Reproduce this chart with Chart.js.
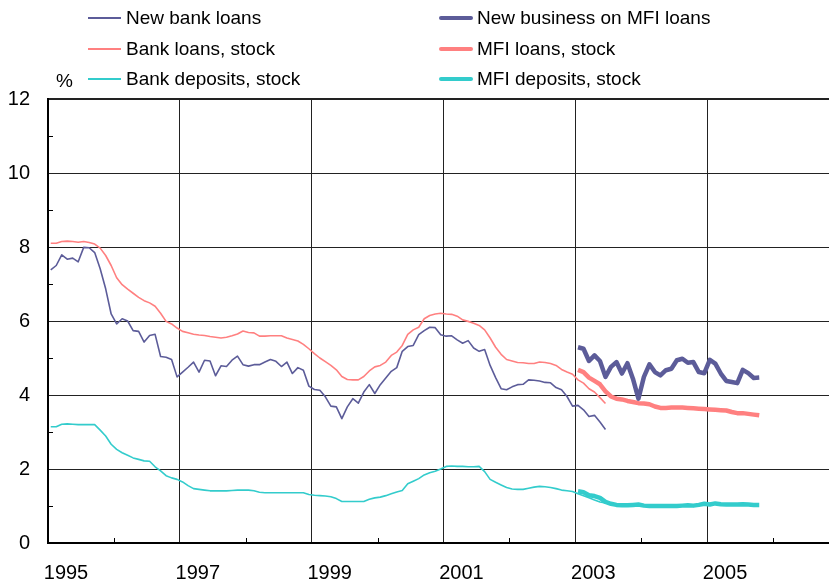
<!DOCTYPE html>
<html>
<head>
<meta charset="utf-8">
<script src="https://cdn.jsdelivr.net/npm/chart.js@4.4.1/dist/chart.umd.min.js"></script>
<style>
  html, body { margin: 0; padding: 0; background: #fff; }
  #wrap { position: relative; width: 829px; height: 582px; overflow: hidden; font-family: "Liberation Sans", Arial, sans-serif; }
  #c { position: absolute; left: 0; top: 0; }
  .lg-line { position: absolute; }
  .lg-text { position: absolute; font-size: 19px; line-height: 22px; height: 22px; color: #000; white-space: nowrap; }
  #unit { position: absolute; left: 56px; top: 70px; font-size: 19px; line-height: 22px; color: #000; }
</style>
</head>
<body>
<div id="wrap">
  <canvas id="c" width="829" height="582"></canvas>
  <div id="unit">%</div>
  <div id="legend"></div>
</div>
<script>
// ---- Data (monthly observations) ----
const seriesNames = [
  "New bank loans", "Bank loans, stock", "Bank deposits, stock",
  "New business on MFI loans", "MFI loans, stock", "MFI deposits, stock"
];
const seriesColors = ["#5c5c99", "#ff8080", "#33cccc", "#5c5c99", "#ff8080", "#33cccc"];

// Old-definition bank series: Jan 1995 – Jun 2003
const bankStartYear = 1995, bankStartMonth = 1;
const newBankLoans = [
  7.38, 7.50, 7.79, 7.67, 7.70, 7.60, 7.99, 7.98, 7.85, 7.41,
  6.87, 6.19, 5.92, 6.06, 6.00, 5.74, 5.72, 5.43, 5.61, 5.64,
  5.04, 5.02, 4.96, 4.49, 4.62, 4.75, 4.89, 4.62, 4.94, 4.92,
  4.52, 4.79, 4.77, 4.94, 5.05, 4.82, 4.78, 4.82, 4.82, 4.89,
  4.96, 4.91, 4.77, 4.89, 4.58, 4.74, 4.67, 4.24, 4.15, 4.13,
  3.95, 3.70, 3.68, 3.36, 3.68, 3.90, 3.78, 4.08, 4.28, 4.04,
  4.28, 4.46, 4.64, 4.74, 5.18, 5.31, 5.34, 5.63, 5.74, 5.83,
  5.82, 5.63, 5.59, 5.60, 5.49, 5.40, 5.47, 5.27, 5.18, 5.23,
  4.80, 4.47, 4.17, 4.14, 4.22, 4.28, 4.29, 4.41, 4.40, 4.38,
  4.34, 4.33, 4.20, 4.14, 3.96, 3.70, 3.72, 3.60, 3.42, 3.45,
  3.27, 3.07
];
const bankLoansStock = [
  8.10, 8.10, 8.15, 8.16, 8.15, 8.13, 8.15, 8.12, 8.08, 7.97,
  7.77, 7.50, 7.17, 6.98, 6.86, 6.75, 6.64, 6.55, 6.49, 6.40,
  6.21, 5.99, 5.92, 5.81, 5.72, 5.68, 5.64, 5.62, 5.61, 5.58,
  5.56, 5.54, 5.56, 5.60, 5.65, 5.73, 5.69, 5.68, 5.59, 5.59,
  5.60, 5.60, 5.60, 5.54, 5.50, 5.46, 5.37, 5.25, 5.12, 5.00,
  4.90, 4.80, 4.68, 4.50, 4.42, 4.41, 4.41, 4.50, 4.65, 4.76,
  4.80, 4.89, 5.07, 5.16, 5.34, 5.64, 5.76, 5.83, 6.06, 6.15,
  6.19, 6.21, 6.19, 6.18, 6.13, 6.03, 5.99, 5.94, 5.88, 5.76,
  5.54, 5.29, 5.10, 4.96, 4.92, 4.88, 4.87, 4.85, 4.85, 4.89,
  4.88, 4.85, 4.80, 4.69, 4.62, 4.56, 4.41, 4.32, 4.17, 4.08,
  3.93, 3.77
];
const bankDepositsStock = [
  3.14, 3.14, 3.21, 3.22, 3.21, 3.20, 3.20, 3.20, 3.20, 3.05,
  2.89, 2.67, 2.53, 2.44, 2.37, 2.30, 2.26, 2.22, 2.21, 2.06,
  1.95, 1.82, 1.76, 1.72, 1.65, 1.55, 1.47, 1.45, 1.43, 1.41,
  1.41, 1.41, 1.41, 1.42, 1.43, 1.43, 1.43, 1.41, 1.37, 1.36,
  1.36, 1.36, 1.36, 1.36, 1.36, 1.36, 1.36, 1.31, 1.29, 1.28,
  1.27, 1.25, 1.20, 1.12, 1.12, 1.12, 1.12, 1.12, 1.18, 1.22,
  1.24, 1.28, 1.33, 1.38, 1.42, 1.60, 1.67, 1.74, 1.84, 1.90,
  1.94, 2.00, 2.07, 2.08, 2.07, 2.07, 2.06, 2.06, 2.07, 1.93,
  1.72, 1.64, 1.57, 1.50, 1.46, 1.45, 1.45, 1.48, 1.51, 1.53,
  1.52, 1.50, 1.47, 1.43, 1.41, 1.39, 1.33, 1.28, 1.22, 1.16,
  1.11, 1.08
];

// MFI interest rate statistics: Jan 2003 – Oct 2005
const mfiStartYear = 2003, mfiStartMonth = 1;
const newBusinessMFI = [
  5.29, 5.25, 4.92, 5.07, 4.92, 4.49, 4.76, 4.89, 4.58, 4.86,
  4.44, 3.90, 4.49, 4.83, 4.62, 4.53, 4.67, 4.71, 4.94, 4.98,
  4.87, 4.89, 4.62, 4.59, 4.95, 4.85, 4.58, 4.38, 4.35, 4.32,
  4.68, 4.59, 4.46, 4.47
];
const mfiLoansStock = [
  4.68, 4.62, 4.47, 4.38, 4.29, 4.10, 3.96, 3.90, 3.88, 3.84,
  3.81, 3.78, 3.77, 3.75, 3.69, 3.65, 3.65, 3.66, 3.66, 3.66,
  3.65, 3.64, 3.63, 3.62, 3.61, 3.60, 3.59, 3.58, 3.54, 3.51,
  3.51, 3.49, 3.47, 3.45
];
const mfiDepositsStock = [
  1.40, 1.37, 1.29, 1.27, 1.22, 1.11, 1.06, 1.03, 1.02, 1.02,
  1.03, 1.04, 1.01, 1.00, 1.00, 1.00, 1.00, 1.00, 1.00, 1.01,
  1.02, 1.01, 1.03, 1.06, 1.04, 1.07, 1.05, 1.04, 1.04, 1.04,
  1.05, 1.04, 1.03, 1.03
];

// Axis settings
const xMin = 1995, xMax = 2006.85;
const xLabelYears = [1995, 1997, 1999, 2001, 2003, 2005];
const yLabelValues = [0, 2, 4, 6, 8, 10, 12];

// ---- helpers ----
function toPoints(values, startYear, startMonth) {
  return values.map((v, i) => {
    const m = startMonth - 1 + i;
    return { x: startYear + (m + 0.5) / 12, y: v };
  });
}

const FONT = "'Liberation Sans', Arial, sans-serif";

const datasets = [
  { label: seriesNames[0], data: toPoints(newBankLoans, bankStartYear, bankStartMonth), borderColor: seriesColors[0], borderWidth: 1.6, order: 1 },
  { label: seriesNames[1], data: toPoints(bankLoansStock, bankStartYear, bankStartMonth), borderColor: seriesColors[1], borderWidth: 1.6, order: 1 },
  { label: seriesNames[2], data: toPoints(bankDepositsStock, bankStartYear, bankStartMonth), borderColor: seriesColors[2], borderWidth: 1.6, order: 1 },
  { label: seriesNames[3], data: toPoints(newBusinessMFI, mfiStartYear, mfiStartMonth), borderColor: seriesColors[3], borderWidth: 4.5, order: 2 },
  { label: seriesNames[4], data: toPoints(mfiLoansStock, mfiStartYear, mfiStartMonth), borderColor: seriesColors[4], borderWidth: 4.5, order: 2 },
  { label: seriesNames[5], data: toPoints(mfiDepositsStock, mfiStartYear, mfiStartMonth), borderColor: seriesColors[5], borderWidth: 4.5, order: 2 }
].map(d => Object.assign(d, {
  pointRadius: 0, pointHoverRadius: 0, tension: 0, fill: false,
  borderJoinStyle: 'round', borderCapStyle: 'butt'
}));

// Inward minor tick marks
const minorTicks = {
  id: 'minorTicks',
  afterDraw(chart) {
    const { ctx, chartArea, scales } = chart;
    ctx.save();
    ctx.strokeStyle = '#000';
    ctx.lineWidth = 1;
    ctx.beginPath();
    for (let yr = Math.ceil(xMin); yr <= xMax; yr++) {
      if (xLabelYears.includes(yr)) continue;
      const px = Math.round(scales.x.getPixelForValue(yr)) + 0.5;
      ctx.moveTo(px, chartArea.bottom);
      ctx.lineTo(px, chartArea.bottom - 5);
    }
    for (let v = 1; v < 12; v += 2) {
      const py = Math.round(scales.y.getPixelForValue(v)) + 0.5;
      ctx.moveTo(chartArea.left, py);
      ctx.lineTo(chartArea.left + 5, py);
    }
    ctx.stroke();
    ctx.restore();
  }
};

new Chart(document.getElementById('c'), {
  type: 'line',
  data: { datasets },
  plugins: [minorTicks],
  options: {
    responsive: false,
    animation: false,
    events: [],
    layout: { padding: { top: 99, left: 0, right: 0, bottom: 0 } },
    plugins: { legend: { display: false }, tooltip: { enabled: false }, title: { display: false } },
    scales: {
      x: {
        type: 'linear', min: xMin, max: xMax,
        afterFit(scale) { scale.height = 39; },
        border: { display: true, color: '#000', width: 2 },
        grid: {
          drawTicks: false,
          lineWidth: 1,
          color: c => (c.tick && xLabelYears.includes(Math.round(c.tick.value)) && Math.round(c.tick.value) !== xMin) ? '#222' : 'rgba(0,0,0,0)'
        },
        ticks: {
          stepSize: 1, includeBounds: false, autoSkip: false, maxRotation: 0, minRotation: 0,
          labelOffset: 18, padding: 18, color: '#000',
          font: { family: FONT, size: 20 },
          callback: v => xLabelYears.includes(Math.round(v)) ? String(Math.round(v)) : ''
        }
      },
      y: {
        min: 0, max: 12,
        afterFit(scale) { scale.width = 48; },
        border: { display: true, color: '#000', width: 2 },
        grid: {
          drawTicks: false,
          lineWidth: c => (c.tick && c.tick.value === 12) ? 2 : 1,
          color: c => (c.tick && c.tick.value > 0 && c.tick.value % 2 === 0) ? '#222' : 'rgba(0,0,0,0)'
        },
        ticks: {
          stepSize: 1, autoSkip: false, padding: 18, color: '#000',
          font: { family: FONT, size: 20 },
          callback: v => yLabelValues.includes(v) ? String(v) : ''
        }
      }
    }
  }
});

// HTML legend (two columns)
const legend = document.getElementById('legend');
const legendRowsY = [18, 49, 79];
seriesNames.forEach((name, i) => {
  const col = i < 3 ? 0 : 1;
  const row = i % 3;
  const thick = col === 1;
  const lineLeft = col === 0 ? 88 : 439;
  const lineW = col === 0 ? 33 : 34;
  const textLeft = col === 0 ? 126 : 477;
  const cy = legendRowsY[row];
  const h = thick ? 4.5 : 1.6;
  const ln = document.createElement('div');
  ln.className = 'lg-line';
  ln.style.left = lineLeft + 'px';
  ln.style.width = lineW + 'px';
  ln.style.top = (cy - h / 2) + 'px';
  ln.style.height = h + 'px';
  ln.style.background = seriesColors[i];
  if (thick) ln.style.borderRadius = '2px';
  legend.appendChild(ln);
  const tx = document.createElement('div');
  tx.className = 'lg-text';
  tx.style.left = textLeft + 'px';
  tx.style.top = (cy - 11) + 'px';
  tx.textContent = name;
  legend.appendChild(tx);
});
</script>
</body>
</html>
